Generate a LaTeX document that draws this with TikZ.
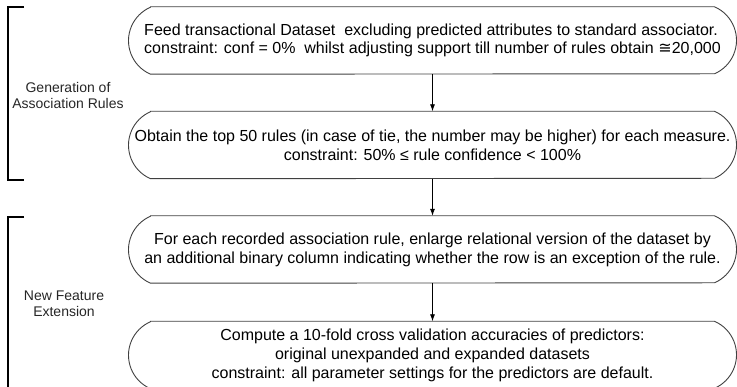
\documentclass[tikz,border=0pt]{standalone}
\usepackage{fontspec}
\setmainfont{Liberation Sans}
\newfontfamily\symfont{DejaVu Sans}
\usetikzlibrary{arrows.meta}

\begin{document}
\begin{tikzpicture}[x=1pt, y=1pt,
	stage/.style={rectangle, minimum width=608pt, minimum height=67pt,
		inner sep=0pt, align=center, font=\fontsize{16}{19}\selectfont},
	stageline/.style={draw=black!75, line width=0.9pt},
	phase/.style={align=center, text=black!85, font=\fontsize{14}{16}\selectfont},
	bracket/.style={line width=1.8pt},
	flow/.style={-{Latex[length=7pt, width=5pt]}, line width=0.8pt}]
	\useasboundingbox (0,0) rectangle (737,386);

	% the four steps
	\node[stage, align=left, font=\fontsize{16}{18}\selectfont] (feed) at (432.5,345.5) {Feed transactional Dataset~ excluding predicted attributes to standard associator.\\
		constraint: conf = 0\%~ whilst adjusting support till number of rules obtain {\symfont ≅}20,000};
	\node[stage] (obtain) at (432.5,241) {Obtain the top 50 rules (in case of tie, the number may be higher) for each measure.\\
		constraint: 50\% ≤ rule confidence < 100\%};
	\node[stage] (enlarge) at (432.5,136.5) {For each recorded association rule, enlarge relational version of the dataset by\\
		an additional binary column indicating whether the row is an exception of the rule.};
	\node[stage] (compute) at (432.5,31) {Compute a 10-fold cross validation accuracies of predictors:\\
		original unexpanded and expanded datasets\\
		constraint: all parameter settings for the predictors are default.};

	% terminator outlines, straight top and bottom, flat arcs at the ends
	\foreach \n in {feed,obtain,enlarge,compute}
		\draw[stageline] ([xshift=-282pt]\n.north) -- ([xshift=282pt]\n.north)
			arc[start angle=66.6, end angle=-66.6, radius=36.5pt]
			-- ([xshift=-282pt]\n.south)
			arc[start angle=246.6, end angle=113.4, radius=36.5pt] -- cycle;

	\draw[flow] (feed) -- (obtain);
	\draw[flow] (obtain) -- (enlarge);
	\draw[flow] (enlarge) -- (compute);

	% phases on the left
	\draw[bracket] (24,379) -| (8,206) -- (24,206);
	\draw[bracket] (24,169) -| (8,-6);
	\node[phase] (generation) at (68,291) {Generation of\\Association Rules};
	\node[phase] (extension) at (64,82) {New Feature\\Extension};
\end{tikzpicture}
\end{document}
